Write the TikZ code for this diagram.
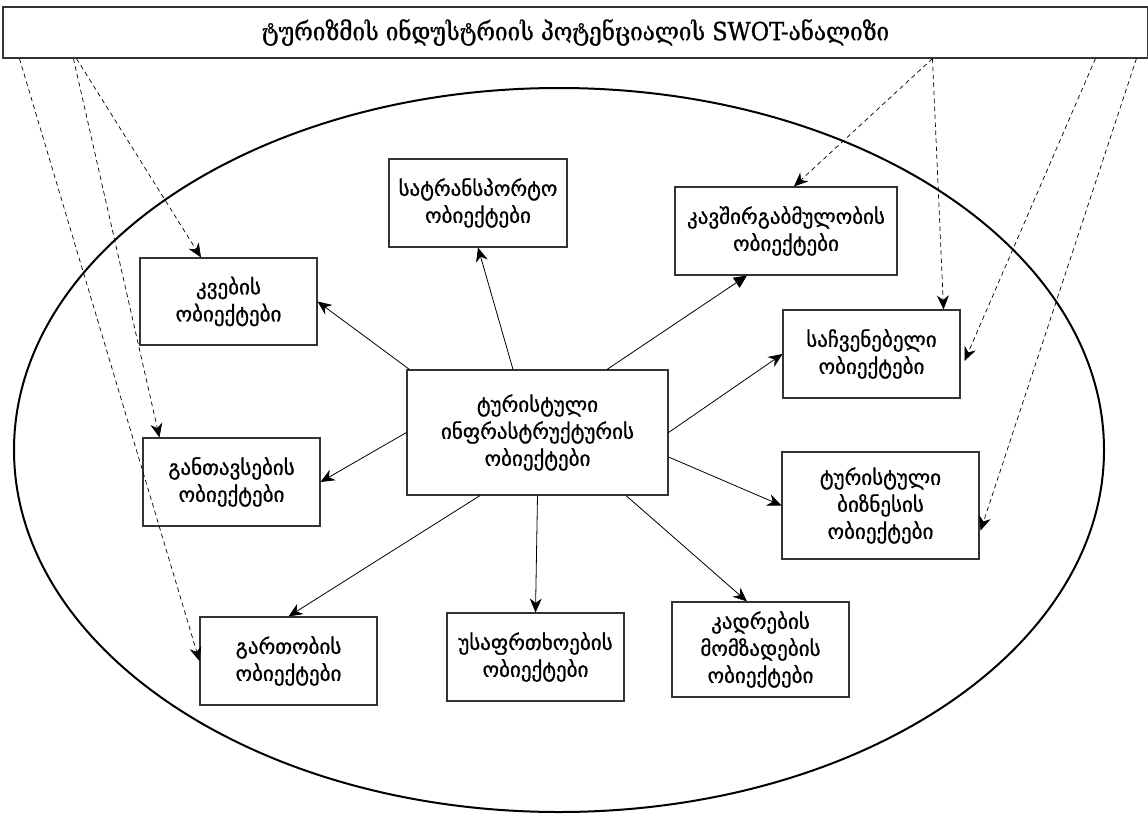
\documentclass[tikz,border=0pt]{standalone}
\usepackage{fontspec}
\setmainfont{DejaVu Sans}
\newfontfamily\boxfont{DejaVu Sans}[FakeBold=0.9]
\newfontfamily\titlefont{DejaVu Serif Condensed}[FakeBold=0.9]
\usetikzlibrary{arrows.meta,calc}

\begin{document}
\begin{tikzpicture}[x=1pt,y=-1pt,
  box/.style={draw=black!80, line width=1.1pt, align=center, inner sep=0pt,
    minimum width=177pt, minimum height=88pt,
    font=\boxfont\fontsize{21}{27}\selectfont},
  link/.style={line width=0.8pt, -{Stealth[length=14pt,width=12pt,inset=4.5pt]}},
  solidlink/.style={line width=0.8pt, -{Triangle[length=13pt,width=12pt]}},
  swot/.style={line width=0.7pt, dash pattern=on 4.5pt off 3.5pt,
    -{Stealth[length=14pt,width=12pt,inset=4.5pt]}},
]
\useasboundingbox (0,0) rectangle (1148,816);
\fill[white] (0,0) rectangle (1148,816);

% outer ellipse
\draw[line width=2pt] (559,450) ellipse [x radius=545pt, y radius=362pt];

% title bar
\node[draw=black!80, line width=1.1pt, minimum width=1145pt, minimum height=51pt,
  inner sep=0pt, font=\titlefont\fontsize{25}{28}\selectfont] (title) at (575.5,32.5)
  {ტურიზმის ინდუსტრიის პოტენციალის SWOT-ანალიზი};

% central node
\node[box, minimum width=261pt, minimum height=125pt] (infra) at (537.5,432.5)
  {ტურისტული\\ინფრასტრუქტურის\\ობიექტები};

% surrounding nodes
\node[box, minimum width=178pt] (trans) at (478,203) {სატრანსპორტო\\ობიექტები};
\node[box, minimum width=222pt] (comm) at (786,231) {კავშირგაბმულობის\\ობიექტები};
\node[box, minimum height=87pt] (food) at (228.5,301.5) {კვების\\ობიექტები};
\node[box] (show) at (871.5,354) {საჩვენებელი\\ობიექტები};
\node[box] (accom) at (231.5,482) {განთავსების\\ობიექტები};
\node[box, minimum width=197pt, minimum height=107pt] (biz) at (880.5,505.5)
  {ტურისტული\\ბიზნესის\\ობიექტები};
\node[box] (ent) at (288.5,661) {გართობის\\ობიექტები};
\node[box] (safe) at (535.5,657) {უსაფრთხოების\\ობიექტები};
\node[box, minimum height=95pt] (staff) at (760.5,649.5)
  {კადრების\\მომზადების\\ობიექტები};

% links from the central node
\draw[link] ($(infra.north)+(-24.5,0)$) -- (trans.south);
\draw[solidlink] ($(infra.north)+(69.5,0)$) -- ($(comm.south)+(-39,0)$);
\draw[link] (infra.east) -- (show.west);
\draw[link] ($(infra.east)+(0,24.5)$) -- (biz.west);
\draw[link] ($(infra.south)+(88.5,0)$) -- ($(staff.north)+(-13.5,0)$);
\draw[link] (infra.south) -- (safe.north);
\draw[link] ($(infra.south)+(-57.5,0)$) -- (ent.north);
\draw[link] (infra.west) -- (accom.east);
\draw[link] ($(infra.north west)+(3,0)$) -- (food.east);

% dashed links from the title bar
\path (title.south west) ++(17,0) coordinate (l1)
      (title.south west) ++(71,0) coordinate (l2)
      (title.south west) ++(74,0) coordinate (l3)
      (title.south west) ++(930,0) coordinate (r1)
      (title.south west) ++(1093,0) coordinate (r2)
      (title.south west) ++(1134,0) coordinate (r3);
\draw[swot] (l1) -- (ent.west);
\draw[swot] (l2) -- ($(accom.north west)+(17,0)$);
\draw[swot] (l3) -- (food);
\draw[swot] (r1) -- ($(comm.north)+(8,0)$);
\draw[swot] (r1) -- ($(show.north east)+(-17,0)$);
\draw[swot] (r2) -- ($(show.east)+(4,7)$);
\draw[swot] (r3) -- ($(biz.south east)+(1,-29)$);
\end{tikzpicture}
\end{document}
